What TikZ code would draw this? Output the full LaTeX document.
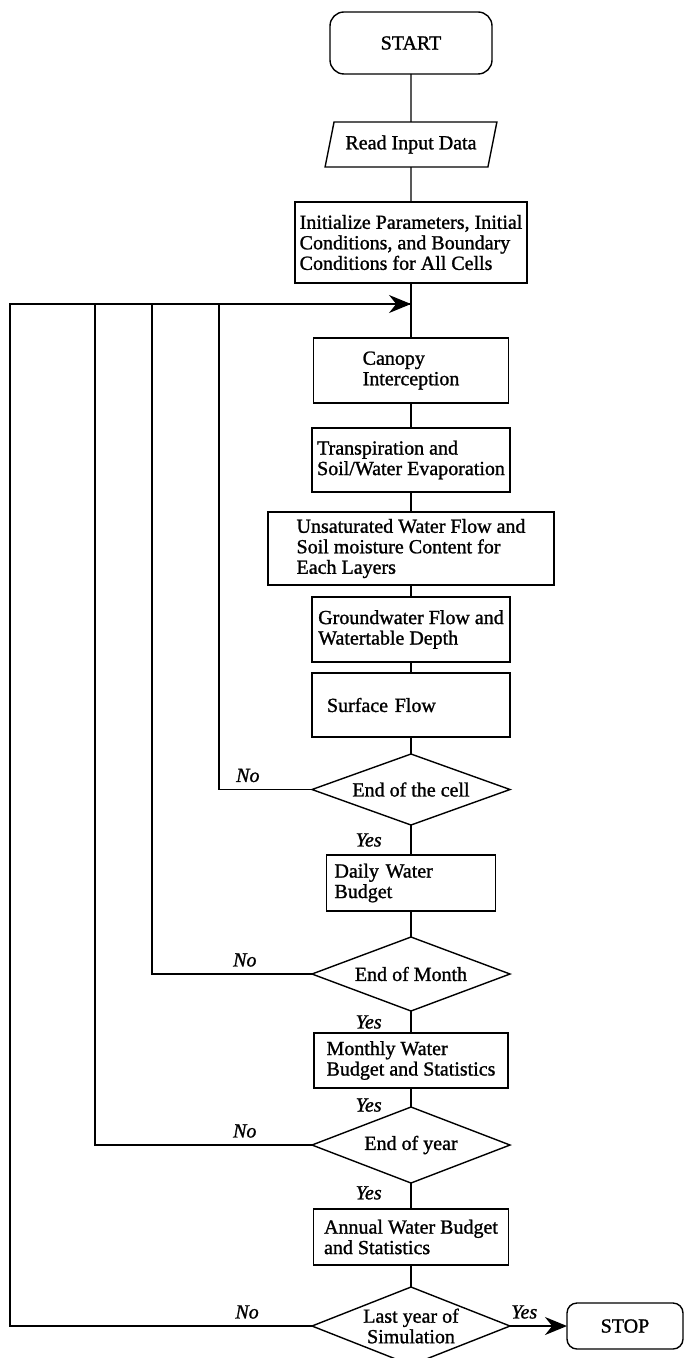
\documentclass[tikz,border=0pt]{standalone}
\usepackage{fontspec}
\setmainfont{Liberation Serif}[FakeBold=1.2]
\usetikzlibrary{positioning,arrows.meta,shapes.geometric}
\tikzset{
  node-base/.style={draw,line width=0.7pt,outer sep=0pt,align=left,
    font=\fontsize{10}{10.25}\selectfont},
  node-box/.style={node-base,rectangle,inner xsep=2pt,inner ysep=1pt},
  node-term/.style={node-base,rectangle,rounded corners=7pt,align=center},
  node-io/.style={node-base,trapezium,trapezium left angle=75,
    trapezium right angle=105,trapezium stretches=true,align=center},
  node-dec/.style={node-base,diamond,aspect=2.7,inner sep=0pt,
    minimum width=99pt,align=center},
  line/.style={line width=0.7pt},
  arrow/.style={line,-{Stealth[length=11pt,width=9pt]}},
  lbl/.style={font=\fontsize{10}{10.25}\selectfont\itshape},
  lbl-yes/.style={lbl,left=11pt},
  lbl-no/.style={lbl,above},
}
\begin{document}
\begin{tikzpicture}[x=0.5pt,y=-0.5pt]
  \useasboundingbox (0,0) rectangle (686,1358);
  \node[node-term,minimum width=81pt,minimum height=31pt] (start) at (411,43) {START};
  \node[node-io,minimum width=86pt,minimum height=22.5pt,below=24pt of start] (read) {Read Input Data};
  \node[node-box,minimum width=116pt,minimum height=40.5pt,below=17.5pt of read] (init)
    {Initialize Parameters, Initial\\Conditions, and Boundary\\Conditions for All Cells};
  \coordinate[below=10.5pt of init] (join);
  \node[node-box,minimum width=97.5pt,minimum height=32.5pt,below=27.5pt of init] (canopy) {Canopy\\Interception};
  \node[node-box,minimum width=99pt,minimum height=32pt,below=12.5pt of canopy] (transp)
    {Transpiration and\\Soil/Water Evaporation};
  \node[node-box,minimum width=143pt,minimum height=36.5pt,below=10pt of transp] (unsat)
    {Unsaturated Water Flow and\\Soil moisture Content for\\Each Layers};
  \node[node-box,minimum width=99pt,minimum height=32.5pt,below=6pt of unsat] (ground)
    {Groundwater Flow and\\Watertable Depth};
  \node[node-box,minimum height=32pt,text width=84pt,inner xsep=7.5pt,below=5.5pt of ground] (surface) {Surface Flow};
  \node[node-dec,minimum height=35.5pt,below=8.5pt of surface] (cell) {End of the cell};
  \node[node-box,minimum height=28pt,text width=76.5pt,inner xsep=4pt,below=15pt of cell] (daily) {Daily Water\\Budget};
  \node[node-dec,minimum height=37pt,below=13pt of daily] (month) {End of Month};
  \node[node-box,minimum width=97pt,minimum height=27.5pt,below=11pt of month] (monthly)
    {Monthly Water\\Budget and Statistics};
  \node[node-dec,minimum height=38pt,below=9.5pt of monthly] (year) {End of year};
  \node[node-box,minimum width=97.5pt,minimum height=28pt,below=13pt of year] (annual)
    {Annual Water Budget\\and Statistics};
  \node[node-dec,aspect=2.5,minimum height=39pt,below=11pt of annual] (last) {Last year of\\Simulation};
  \node[node-term,rounded corners=5pt,minimum width=58pt,minimum height=23pt,right=28.5pt of last] (stop) {STOP};
  % return rails on the left
  \coordinate (rail-cell) at (219,0);
  \coordinate (rail-month) at (152,0);
  \coordinate (rail-year) at (95,0);
  \coordinate (rail-last) at (10,0);
  \draw[line] (start) -- (read);
  \draw[line] (read) -- (init);
  \draw[line] (init) -- (canopy);
  \draw[line] (canopy) -- (transp);
  \draw[line] (transp) -- (unsat);
  \draw[line] (unsat) -- (ground);
  \draw[line] (ground) -- (surface);
  \draw[line] (surface) -- (cell);
  \draw[line] (cell) -- node[lbl-yes]{Yes} (daily);
  \draw[line] (daily) -- (month);
  \draw[line] (month) -- node[lbl-yes]{Yes} (monthly);
  \draw[line] (monthly) -- node[lbl-yes,pos=0.9]{Yes} (year);
  \draw[line] (year) -- node[lbl-yes,pos=0.38]{Yes} (annual);
  \draw[line] (annual) -- (last);
  \draw[arrow] (last) -- node[lbl,above,pos=0.25]{Yes} (stop);
  \draw[line] (cell.west) -- node[lbl-no,pos=0.69]{No} (cell.west -| rail-cell) |- (join);
  \draw[line] (month.west) -- node[lbl-no,pos=0.42]{No} (month.west -| rail-month) |- (join);
  \draw[line] (year.west) -- node[lbl-no,pos=0.31]{No} (year.west -| rail-year) |- (join);
  \draw[arrow] (last.west) -- node[lbl-no,pos=0.215]{No} (last.west -| rail-last) |- (join);
\end{tikzpicture}
\end{document}
